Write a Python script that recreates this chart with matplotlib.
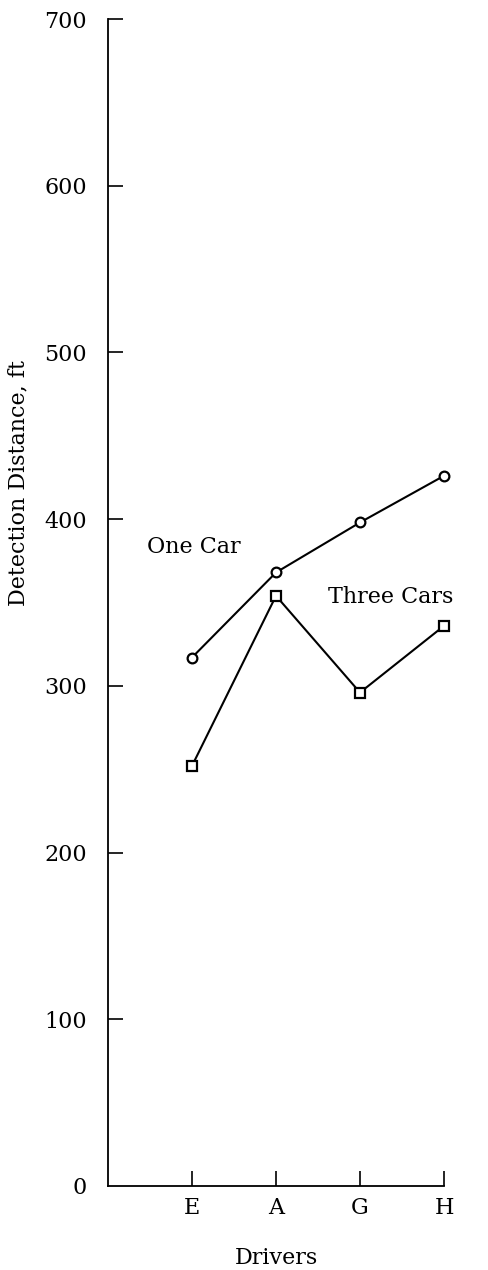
import matplotlib
matplotlib.use("Agg")
import matplotlib.pyplot as plt

drivers = ["E", "A", "G", "H"]
one_car = [317, 368, 398, 426]
three_cars = [252, 354, 296, 336]
y_ticks = [0, 100, 200, 300, 400, 500, 600, 700]

plt.rcParams["font.family"] = ["DejaVu Serif"]

fig = plt.figure(figsize=(4.88, 12.70), dpi=100)
# axes placed to match the scanned figure (pixels / figure size)
ax = fig.add_axes([108 / 488, 84 / 1270, 336 / 488, 1167 / 1270])

x = list(range(1, len(drivers) + 1))
ax.plot(x, one_car, color="black", lw=1.5, marker="o", ms=7,
        mfc="white", mec="black", mew=1.6, clip_on=False)
ax.plot(x, three_cars, color="black", lw=1.5, marker="s", ms=6.5,
        mfc="white", mec="black", mew=1.6, clip_on=False)

ax.text(0.46, 383, "One Car", fontsize=16, va="center", ha="left")
ax.text(2.62, 353, "Three Cars", fontsize=16, va="center", ha="left")

ax.set_xlim(0, 4)
ax.set_ylim(0, 700)
ax.set_xticks(x)
ax.set_xticklabels(drivers)
ax.set_yticks(y_ticks)

for side in ["top", "right"]:
    ax.spines[side].set_visible(False)
for side in ["left", "bottom"]:
    ax.spines[side].set_linewidth(1.3)

ax.tick_params(axis="both", direction="in", length=11, width=1.2,
               labelsize=16, color="black")
ax.tick_params(axis="y", pad=15)
ax.tick_params(axis="x", pad=8)
# no tick mark at zero on the y axis, only its label
ax.yaxis.get_major_ticks()[0].tick1line.set_visible(False)

ax.set_xlabel("Drivers", fontsize=16, labelpad=20)
ax.set_ylabel("Detection Distance, ft", fontsize=16)
ax.yaxis.set_label_coords(-79 / 336, (1186 - 483) / 1167)

fig.savefig("out.png", dpi=100)
